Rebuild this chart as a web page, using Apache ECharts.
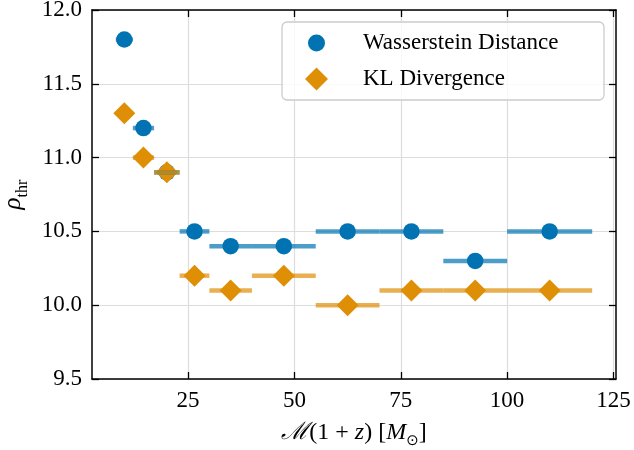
<!DOCTYPE html>
<html>
<head>
<meta charset="utf-8">
<script src="https://cdn.jsdelivr.net/npm/echarts@6/dist/echarts.min.js"></script>
<style>html,body{margin:0;padding:0;background:#fff}#c{width:634px;height:450px}</style>
</head>
<body>
<div id="c"></div>
<script>
var binCenters = [10, 14.5, 20, 26.5, 35, 47.5, 62.5, 77.5, 92.5, 110];
var binLow     = [8, 12, 17, 23, 30, 40, 55, 70, 85, 100];
var binHigh    = [12, 17, 23, 30, 40, 55, 70, 85, 100, 120];
var wasserstein = [11.8, 11.2, 10.9, 10.5, 10.4, 10.4, 10.5, 10.5, 10.3, 10.5];
var klDivergence = [11.3, 11.0, 10.9, 10.2, 10.1, 10.2, 10.0, 10.1, 10.1, 10.1];
var xTicks = [25, 50, 75, 100, 125];

var BLUE = '#0173b2', ORANGE = '#de8f05';
var FONT = 'Liberation Serif';

function pts(ys){ return binCenters.map(function(x,i){ return [x, ys[i]]; }); }
function bars(ys){ return binCenters.map(function(x,i){ return [binLow[i], binHigh[i], ys[i]]; }); }
function errRender(color){
  return function(params, api){
    var p1 = api.coord([api.value(0), api.value(2)]);
    var p2 = api.coord([api.value(1), api.value(2)]);
    return {type:'line', shape:{x1:p1[0], y1:p1[1], x2:p2[0], y2:p2[1]},
      style:{stroke:color, lineWidth:4.5, opacity:0.7, lineCap:'butt'}};
  };
}

var chart = echarts.init(document.getElementById('c'), null, {renderer:'canvas'});
var axisCommonX = {
  type:'value', min:2.4, max:125.6,
  axisLine:{show:true, onZero:false, lineStyle:{color:'#000', width:1.5}},
  axisTick:{show:true, inside:true, length:7, customValues:xTicks, lineStyle:{color:'#000', width:1.3}}
};
var axisCommonY = {
  type:'value', min:9.5, max:12.0, interval:0.5,
  axisLine:{show:true, onZero:false, lineStyle:{color:'#000', width:1.5}},
  axisTick:{show:true, inside:true, length:7, lineStyle:{color:'#000', width:1.3}}
};
// circle icon inside a 23x23 box so it renders at ~17px while the diamond is 23px
var circleIcon = 'path://M0,0M23,23M3,11.5a8.5,8.5 0 1,0 17,0a8.5,8.5 0 1,0 -17,0z';
chart.setOption({
  animation:false,
  backgroundColor:'#fff',
  grid:{left:92, right:18, top:10, bottom:71, containLabel:false, outerBoundsMode:'none'},
  xAxis:[
    Object.assign({}, axisCommonX, {
      position:'bottom',
      axisLabel:{show:true, customValues:xTicks, margin:10, color:'#000', fontFamily:FONT, fontSize:23},
      splitLine:{show:true, lineStyle:{color:'#dddddd', width:1.2}},
      name:'{m|ℳ}(1 + {i|z}) [{i|M}{s|⊙}]',
      nameLocation:'middle', nameGap:42,
      nameTextStyle:{color:'#000', fontFamily:FONT, fontSize:24,
        rich:{m:{fontFamily:'DejaVu Serif', fontStyle:'italic', fontSize:24, color:'#000'},
              i:{fontFamily:FONT, fontStyle:'italic', fontSize:24, color:'#000'},
              s:{fontFamily:'DejaVu Sans', fontSize:15, color:'#000', verticalAlign:'bottom', padding:[0,0,-4,0]}}}
    }),
    Object.assign({}, axisCommonX, {position:'top', axisLabel:{show:false}, splitLine:{show:false}})
  ],
  yAxis:[
    Object.assign({}, axisCommonY, {
      position:'left',
      axisLabel:{show:true, margin:10, color:'#000', fontFamily:FONT, fontSize:23,
        formatter:function(v){ return v.toFixed(1); }},
      splitLine:{show:true, lineStyle:{color:'#dddddd', width:1.2}},
      name:'{r|ρ}{s|thr}',
      nameLocation:'middle', nameGap:62, nameRotate:90,
      nameTextStyle:{color:'#000', fontFamily:FONT,
        rich:{r:{fontFamily:FONT, fontStyle:'italic', fontSize:25, color:'#000'},
              s:{fontFamily:FONT, fontSize:16, color:'#000', verticalAlign:'bottom', padding:[0,0,-5,0]}}}
    }),
    Object.assign({}, axisCommonY, {position:'right', axisLabel:{show:false}, splitLine:{show:false}})
  ],
  legend:{
    show:true, orient:'vertical', left:282, top:22,
    padding:[9, 11, 9, 23], itemGap:12, itemWidth:23, itemHeight:23,
    backgroundColor:'rgba(255,255,255,0.8)', borderColor:'#cccccc', borderWidth:1.3, borderRadius:5,
    textStyle:{fontFamily:FONT, fontSize:23, color:'#000', lineHeight:24, width:230, padding:[0,0,0,30]},
    data:[{name:'Wasserstein Distance', icon:circleIcon}, {name:'KL Divergence', icon:'diamond'}]
  },
  series:[
    {type:'scatter', name:'Wasserstein Distance', symbol:'circle', symbolSize:16.5, itemStyle:{color:BLUE, opacity:1}, data:pts(wasserstein), z:2},
    {type:'scatter', name:'KL Divergence', symbol:'diamond', symbolSize:22, itemStyle:{color:ORANGE, opacity:1}, data:pts(klDivergence), z:3},
    {type:'custom', name:'wErr', xAxisIndex:0, yAxisIndex:0, renderItem:errRender(BLUE), data:bars(wasserstein), z:4, silent:true},
    {type:'custom', name:'kErr', xAxisIndex:0, yAxisIndex:0, renderItem:errRender(ORANGE), data:bars(klDivergence), z:5, silent:true}
  ]
});
</script>
</body>
</html>
